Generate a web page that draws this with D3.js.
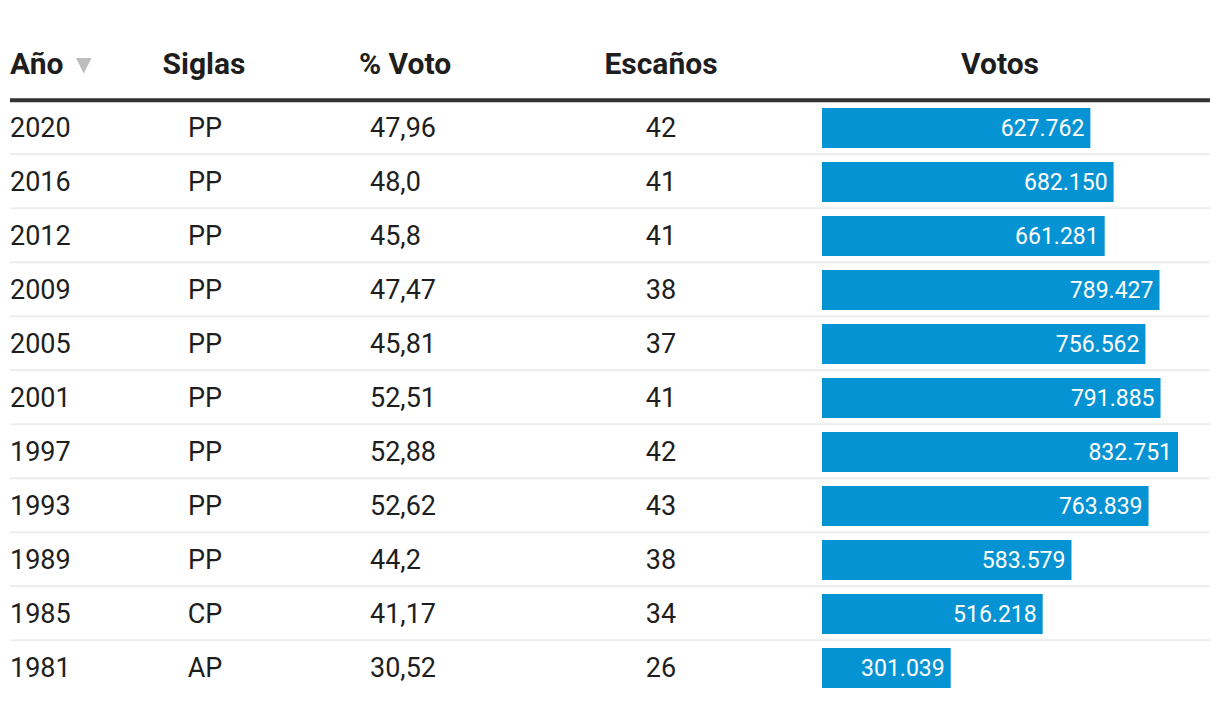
<!DOCTYPE html>
<html>
<head>
<meta charset="utf-8">
<script src="https://cdn.jsdelivr.net/npm/d3@7"></script>
<style>
  html, body { margin: 0; padding: 0; background: #fff; }
  svg { display: block; font-family: Roboto, "Noto Sans", sans-serif; }
</style>
</head>
<body>
<svg id="chart" width="1220" height="704"></svg>
<script>
const headers = ["Año", "Siglas", "% Voto", "Escaños", "Votos"];
const years = [2020, 2016, 2012, 2009, 2005, 2001, 1997, 1993, 1989, 1985, 1981];
const siglas = ["PP", "PP", "PP", "PP", "PP", "PP", "PP", "PP", "PP", "CP", "AP"];
const pctVoto = ["47,96", "48,0", "45,8", "47,47", "45,81", "52,51", "52,88", "52,62", "44,2", "41,17", "30,52"];
const escanos = [42, 41, 41, 38, 37, 41, 42, 43, 38, 34, 26];
const votos = [627762, 682150, 661281, 789427, 756562, 791885, 832751, 763839, 583579, 516218, 301039];

const rows = years.map((y, i) => ({ year: y, sigla: siglas[i], pct: pctVoto[i], esc: escanos[i], votos: votos[i] }));

const svg = d3.select("#chart");
const left = 10, right = 1210;
const rowTop = 101, rowH = 54;

const locale = d3.formatLocale({ decimal: ",", thousands: ".", grouping: [3], currency: ["", "€"] });
const fmt = locale.format(",d");

const yBand = d3.scaleBand().domain(years).range([rowTop, rowTop + rowH * years.length]).padding(0);
const barX0 = 822;
const x = d3.scaleLinear().domain([0, d3.max(votos)]).range([0, 356]);

const textColor = "#1e1e1e";

// Headers
const hdr = svg.append("g").attr("font-weight", 700).attr("font-size", 30).attr("fill", textColor);
hdr.append("text").attr("x", left).attr("y", 74).text(headers[0]);
hdr.append("text").attr("x", 204).attr("y", 74).attr("text-anchor", "middle").text(headers[1]);
hdr.append("text").attr("x", 405).attr("y", 74).attr("text-anchor", "middle").text(headers[2]);
hdr.append("text").attr("x", 661).attr("y", 74).attr("text-anchor", "middle").text(headers[3]);
hdr.append("text").attr("x", 1000).attr("y", 74).attr("text-anchor", "middle").text(headers[4]);
// sort indicator
svg.append("path").attr("d", "M76,58 L91.5,58 L83.75,73.5 Z").attr("fill", "#bdbdbd");

// Thick header rule
svg.append("line").attr("x1", left).attr("x2", right).attr("y1", 100.3).attr("y2", 100.3)
  .attr("stroke", "#333").attr("stroke-width", 4);

// Row separators
svg.append("g").selectAll("line").data(rows.slice(0, -1)).join("line")
  .attr("x1", left).attr("x2", right)
  .attr("y1", d => yBand(d.year) + rowH - 0.8)
  .attr("y2", d => yBand(d.year) + rowH - 0.8)
  .attr("stroke", "#ececec").attr("stroke-width", 2);

const g = svg.append("g").attr("font-size", 27).attr("fill", textColor);
const cy = d => yBand(d.year) + rowH / 2;

g.selectAll("text.year").data(rows).join("text").attr("class", "year")
  .attr("x", left).attr("y", cy).attr("dy", "0.35em").text(d => d.year);
g.selectAll("text.sig").data(rows).join("text").attr("class", "sig")
  .attr("x", 205).attr("y", cy).attr("dy", "0.35em").attr("text-anchor", "middle").text(d => d.sigla);
g.selectAll("text.pct").data(rows).join("text").attr("class", "pct")
  .attr("x", 370).attr("y", cy).attr("dy", "0.35em").text(d => d.pct);
g.selectAll("text.esc").data(rows).join("text").attr("class", "esc")
  .attr("x", 661).attr("y", cy).attr("dy", "0.35em").attr("text-anchor", "middle").text(d => d.esc);

// Bars
const bars = svg.append("g");
bars.selectAll("rect").data(rows).join("rect")
  .attr("x", barX0).attr("y", d => yBand(d.year) + 7)
  .attr("width", d => x(d.votos)).attr("height", 40)
  .attr("fill", "#0693d3");
bars.selectAll("text").data(rows).join("text")
  .attr("x", d => barX0 + x(d.votos) - 6).attr("y", d => cy(d)).attr("dy", "0.36em")
  .attr("text-anchor", "end").attr("fill", "#fff").attr("font-size", 23)
  .text(d => fmt(d.votos));
</script>
</body>
</html>
